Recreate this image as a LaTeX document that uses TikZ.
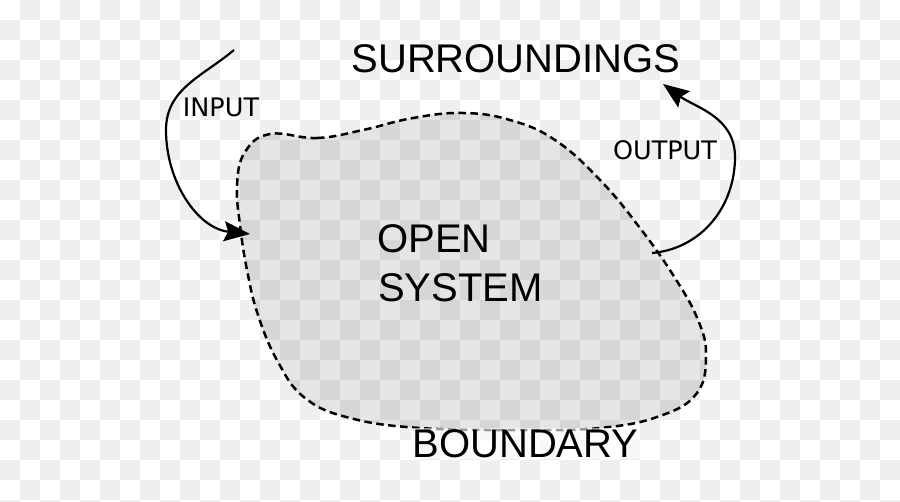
\documentclass[tikz,border=0pt]{standalone}
\usepackage{fontspec}
\setmainfont{Liberation Sans}
\newfontfamily\dvfont{DejaVu Sans}
\usetikzlibrary{arrows.meta}
\definecolor{chk}{RGB}{239,239,239}
\tikzset{
  bigtext/.style={font=\fontsize{40}{48}\selectfont, inner sep=0pt},
  smalltext/.style={font=\dvfont\fontsize{25.5}{30}\selectfont, inner sep=0pt},
  flow/.style={line width=2.2pt, -{Stealth[length=26pt,width=20pt,inset=4pt]}},
  boundaryline/.style={line width=2.5pt, dash pattern=on 7.5pt off 4.5pt},
}
\begin{document}
\begin{tikzpicture}[x=1pt,y=1pt]
\useasboundingbox (0,0) rectangle (900,501);
\clip (0,0) rectangle (900,501);
% checkerboard background
\fill[white] (0,0) rectangle (900,501);
\foreach \i in {0,...,44}{
  \foreach \j in {0,...,25}{
    \pgfmathtruncatemacro\p{mod(\i+\j,2)}
    \ifnum\p=1
      \fill[chk] ({20*\i},{481-20*\j}) rectangle ++(20,20);
    \fi
  }
}
% open system blob
\def\blob{plot[smooth cycle, tension=0.7] coordinates {
 (270,367) (317,363) (363,371) (413,383) (463,388) (510,381) (555,361)
 (600,321) (640,273) (675,223) (698,181) (706,146) (697,108) (660,85)
 (600,73) (520,71) (420,73) (350,83) (305,103) (278,139) (258,186)
 (247,231) (240,276) (237,316) (245,349)}}
\fill[black, opacity=0.1] \blob;
\draw[boundaryline] \blob;
% coordinates of connectors
\coordinate (inS) at (234,451);
\coordinate (inM) at (166,371);
\coordinate (inT) at (250,267);
\coordinate (outS) at (652,248);
\coordinate (outM) at (735,344);
\coordinate (outT) at (663,417);
\draw[flow] (inS) to[out=220,in=90] (inM) to[out=270,in=174] (inT);
\draw[flow] (outS) to[out=5,in=270] (outM) to[out=90,in=-36] (outT);
% labels
\node[bigtext] (surr) at (516,442) {SURROUNDINGS};
\node[smalltext] (input) at (221,394) {INPUT};
\node[smalltext] (output) at (665,351) {OUTPUT};
\node[bigtext, anchor=base west] (open) at (377,248) {OPEN};
\node[bigtext, anchor=base west] (system) at (378,199) {SYSTEM};
\node[bigtext, anchor=base, fill=white, fill opacity=0.6, text opacity=1, inner sep=1.5pt] (boundary) at (525.5,44) {BOUNDARY};
\end{tikzpicture}
\end{document}
